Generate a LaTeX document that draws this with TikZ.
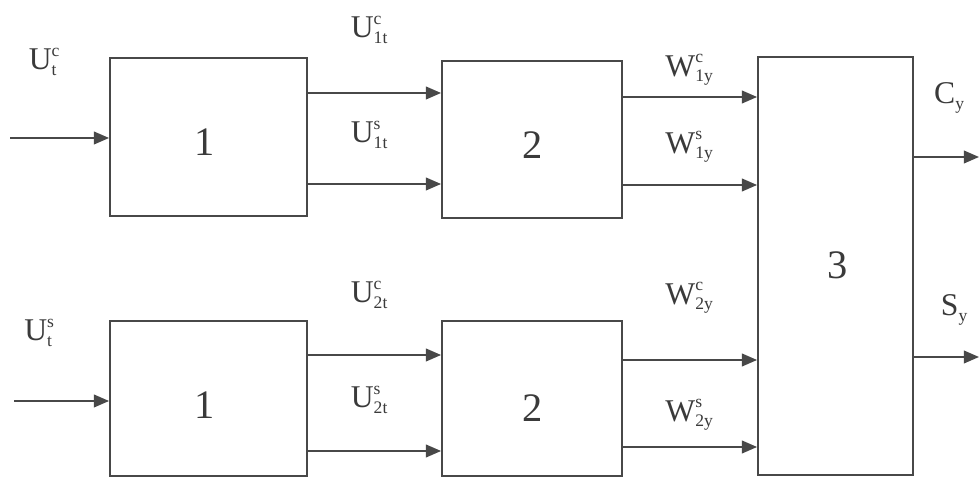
\documentclass[tikz,border=0pt]{standalone}
\usepackage{fontspec}
\setmainfont{Liberation Serif}
\usetikzlibrary{arrows.meta}
\definecolor{ln}{HTML}{484848}
\definecolor{tx}{HTML}{3A3A3A}
\newcommand{\sy}[3]{$\mathrm{#1}^{\scriptscriptstyle\mathrm{#2}}_{\scriptscriptstyle\mathrm{#3}}$}
\tikzset{
  blk/.style={draw=ln, line width=0.5pt, fill=white, inner sep=0pt},
  num/.style={text=tx, inner sep=0pt, font=\fontsize{11.5}{12}\selectfont},
  arr/.style={draw=ln, line width=0.5pt, -{Triangle[length=4.3pt,width=3.6pt]}},
  lbl/.style={text=tx, inner sep=0pt, font=\fontsize{9}{11}\selectfont}
}
\begin{document}
\begin{tikzpicture}[x=0.01cm,y=-0.01cm]
\useasboundingbox (0,0) rectangle (979,477);
% boxes
\node[blk, minimum width=1.97cm, minimum height=1.58cm] (a1) at (208.5,137) {};
\node[num] (n1) at (205,142) {1};
\node[blk, minimum width=1.80cm, minimum height=1.57cm] (a2) at (532,139.5) {};
\node[num] (n2) at (533,145) {2};
\node[blk, minimum width=1.97cm, minimum height=1.55cm] (b1) at (208.5,398.5) {};
\node[num] (n3) at (205,405) {1};
\node[blk, minimum width=1.80cm, minimum height=1.55cm] (b2) at (532,398.5) {};
\node[num] (n4) at (533,408) {2};
\node[blk, minimum width=1.55cm, minimum height=4.18cm] (c3) at (835.5,266) {};
\node[num] (n5) at (838,265) {3};
% free ends
\coordinate (inA) at (10,138);
\coordinate (inB) at (14,401);
\coordinate (outC) at (979,157);
\coordinate (outS) at (979,357);
% connectors
\draw[arr] (inA) -- (inA -| a1.west);
\draw[arr] (a1.east |- 0,93) -- (a2.west |- 0,93);
\draw[arr] (a1.east |- 0,184) -- (a2.west |- 0,184);
\draw[arr] (a2.east |- 0,97) -- (c3.west |- 0,97);
\draw[arr] (a2.east |- 0,185) -- (c3.west |- 0,185);
\draw[arr] (inB) -- (inB -| b1.west);
\draw[arr] (b1.east |- 0,355) -- (b2.west |- 0,355);
\draw[arr] (b1.east |- 0,451) -- (b2.west |- 0,451);
\draw[arr] (b2.east |- 0,360) -- (c3.west |- 0,360);
\draw[arr] (b2.east |- 0,447) -- (c3.west |- 0,447);
\draw[arr] (c3.east |- outC) -- (outC);
\draw[arr] (c3.east |- outS) -- (outS);
% labels
\node[lbl] (l1) at (45,62) {\sy{U}{c}{t}};
\node[lbl] (l2) at (370,30) {\sy{U}{c}{1t}};
\node[lbl] (l3) at (370,135) {\sy{U}{s}{1t}};
\node[lbl] (l4) at (690,70) {\sy{W}{c}{1y}};
\node[lbl] (l5) at (690,147) {\sy{W}{s}{1y}};
\node[lbl] (l6) at (950,98) {\sy{C}{}{y}};
\node[lbl] (l7) at (40,333) {\sy{U}{s}{t}};
\node[lbl] (l8) at (370,295) {\sy{U}{c}{2t}};
\node[lbl] (l9) at (370,400) {\sy{U}{s}{2t}};
\node[lbl] (l10) at (690,298) {\sy{W}{c}{2y}};
\node[lbl] (l11) at (690,415) {\sy{W}{s}{2y}};
\node[lbl] (l12) at (955,310) {\sy{S}{}{y}};
\end{tikzpicture}
\end{document}
